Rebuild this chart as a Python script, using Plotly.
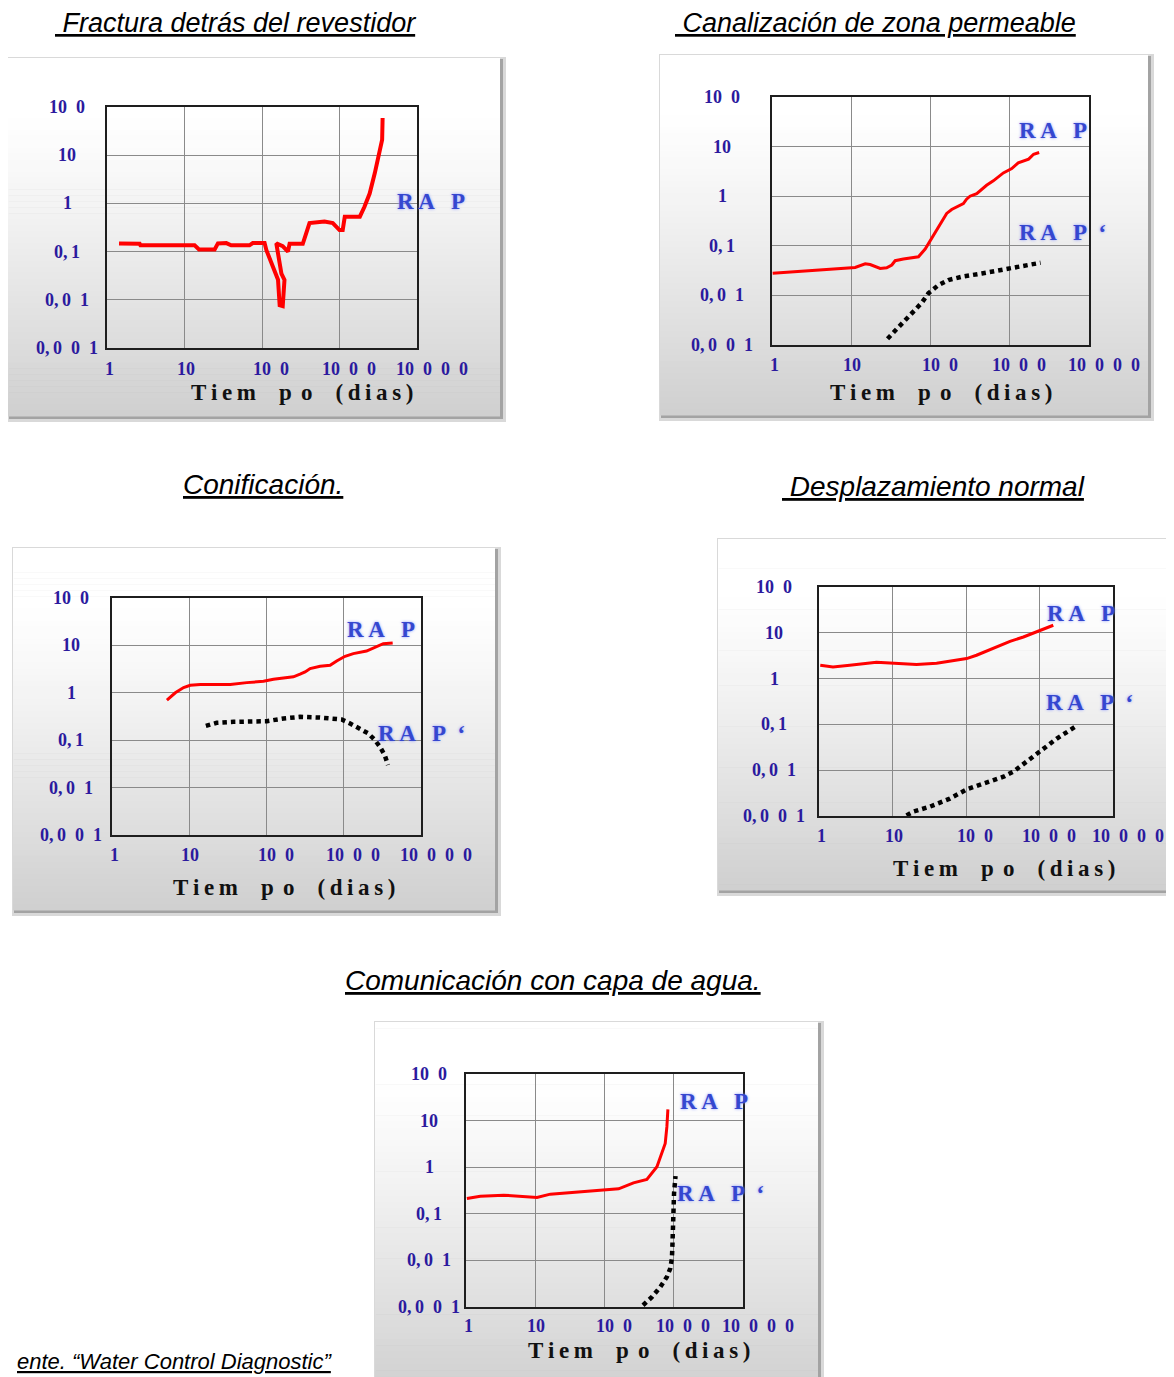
import math
import plotly.graph_objects as go

W, H = 1174, 1377
OFF = 8  # margen por defecto del <body> en la pagina

# ---------------- datos ----------------
x_ticks = [1, 10, 100, 1000, 10000]
x_tick_text = ["1", "10", "10\u20020", "10\u20020\u20020", "10\u20020\u20020\u20020"]
y_ticks = [100, 10, 1, 0.1, 0.01, 0.001]
y_tick_text = ["10\u20020", "10", "1", "0,\u20091", "0,\u20090\u20021", "0,\u20090\u20020\u20021"]

titulos = ["\u00a0Fractura detrás del revestidor",
           "\u00a0Canalización de zona permeable",
           "Conificación.",
           "\u00a0Desplazamiento normal",
           "Comunicación con capa de agua."]
fuente = "ente. \u201cWater Control Diagnostic\u201d"

# Fractura detras del revestidor
dias_fractura = [1.43, 2.64, 2.7, 13.5, 15.4, 24.5, 27, 34.6, 40, 69, 76, 108, 114, 138, 161, 169,
                 185, 195, 178, 153, 185, 216, 227, 336, 355, 410, 640, 820, 1000, 1100, 1170,
                 1830, 2100, 2450, 2850, 3300, 3550, 3600]
rap_fractura = [0.148, 0.145, 0.135, 0.135, 0.111, 0.111, 0.148, 0.15, 0.135, 0.135, 0.15, 0.15,
                0.107, 0.048, 0.026, 0.0077, 0.0074, 0.026, 0.035, 0.148, 0.13, 0.1, 0.145, 0.145,
                0.2, 0.39, 0.42, 0.39, 0.28, 0.28, 0.53, 0.53, 0.85, 1.6, 4.2, 11, 21, 59]

# Canalizacion de zona permeable
dias_canal = [1.02, 10.2, 11.2, 15, 17.3, 23.2, 28, 32.5, 35.8, 45.5, 70.5, 85.6, 103.6, 125, 160,
              185, 260, 285, 315, 383, 510, 620, 830, 1060, 1280, 1730, 2000, 2350]
rap_canal = [0.028, 0.0366, 0.0366, 0.0434, 0.042, 0.035, 0.036, 0.041, 0.05, 0.054, 0.06, 0.086,
             0.14, 0.24, 0.45, 0.54, 0.71, 0.87, 1.0, 1.13, 1.66, 2.04, 2.95, 3.6, 4.7, 5.6, 7.0, 7.6]
dias_canal_d = [28.7, 52.8, 77.6, 94, 125, 168, 248, 444, 960, 2450]
rapd_canal = [0.00134, 0.0037, 0.0071, 0.011, 0.016, 0.0204, 0.0238, 0.0277, 0.035, 0.0455]

# Conificacion
dias_conif = [5.14, 6.6, 8.45, 10.3, 13.9, 34, 55.6, 91.5, 123, 223, 272, 316, 367, 495, 666, 810,
              1040, 1330, 1970, 2670, 3250, 4300]
rap_conif = [0.70, 1.0, 1.29, 1.44, 1.5, 1.5, 1.64, 1.75, 1.94, 2.17, 2.47, 2.76, 3.25, 3.63, 3.8,
             4.7, 5.9, 6.7, 7.6, 9.6, 10.9, 11.3]
dias_conif_d = [16.4, 22.7, 37.5, 101, 166, 272, 491, 730, 940, 1210, 1620, 2080, 2540, 2940, 3400, 3740]
rapd_conif = [0.20, 0.233, 0.244, 0.252, 0.287, 0.311, 0.30, 0.287, 0.273, 0.225, 0.177, 0.139,
              0.1, 0.0726, 0.048, 0.030]

# Desplazamiento normal
dias_despl = [1.04, 1.55, 2.62, 3.98, 6.05, 9.2, 13.9, 21.2, 39.8, 67, 102, 139, 190, 262, 397,
              604, 826, 1020, 1250, 1540]
rap_despl = [1.96, 1.8, 1.96, 2.13, 2.28, 2.2, 2.09, 2.03, 2.17, 2.44, 2.74, 3.24, 4.0, 5.1, 6.5,
             8.1, 9.9, 11, 12.8, 14.6]
dias_despl_d = [15.5, 19.1, 32.2, 60.3, 102, 172, 324, 442, 670, 1020, 1720, 3050]
rapd_despl = [0.00103, 0.00124, 0.0016, 0.0024, 0.0038, 0.0052, 0.0072, 0.0093, 0.0153, 0.0266,
              0.049, 0.0887]

# Comunicacion con capa de agua
dias_comun = [1.03, 1.61, 3.5, 6.8, 10.6, 16.5, 32, 97.5, 160, 262, 409, 572, 674, 753, 796, 823]
rap_comun = [0.213, 0.239, 0.251, 0.231, 0.224, 0.264, 0.286, 0.321, 0.343, 0.462, 0.545, 1.02,
             1.97, 3.24, 7.4, 17.4]
dias_comun_d = [360, 485, 640, 795, 890, 940, 955, 970, 970, 990, 1010, 1060]
rapd_comun = [0.00109, 0.00164, 0.0027, 0.0044, 0.0067, 0.011, 0.0195, 0.0377, 0.073, 0.141,
              0.273, 0.643]

series = [
    (dias_fractura, rap_fractura, None, None),
    (dias_canal, rap_canal, dias_canal_d, rapd_canal),
    (dias_conif, rap_conif, dias_conif_d, rapd_conif),
    (dias_despl, rap_despl, dias_despl_d, rapd_despl),
    (dias_comun, rap_comun, dias_comun_d, rapd_comun),
]

# ---------------- posiciones (pixeles de la imagen) ----------------
panels = [
    dict(box=(8, 58, 500, 416), plot=(107, 107, 417, 348), ylab_dx=-40, xlab_dy=21,
         ttl=(235, 23, 27), axt=(302, 392), rap=(431, 202), rapd=None, lw=4),
    dict(box=(660, 55, 1148, 415), plot=(772, 97, 1089, 345), ylab_dx=-50, xlab_dy=20,
         ttl=(875, 23, 27), axt=(941, 392), rap=(1053, 131), rapd=(1062, 232), lw=3),
    dict(box=(13, 548, 495, 910), plot=(112, 598, 421, 835), ylab_dx=-41, xlab_dy=20,
         ttl=(263, 484, 28), axt=(284, 887), rap=(381, 630), rapd=(421, 733), lw=3),
    dict(box=(718, 539, 1180, 890), plot=(819, 587, 1113, 816), ylab_dx=-45, xlab_dy=20,
         ttl=(933, 486, 28), axt=(1004, 868), rap=(1081, 613), rapd=(1089, 703), lw=3),
    dict(box=(375, 1022, 818, 1395), plot=(466, 1074, 743, 1307), ylab_dx=-37, xlab_dy=19,
         ttl=(553, 980, 28), axt=(639, 1350), rap=(714, 1101), rapd=(721, 1193), lw=3),
]
xlab_shift = [2, 1, 9, 9, 15]

TICK_COLOR = "#2b1a9e"
RAP_COLOR = "#3547cf"
SERIF = "Liberation Serif, Times New Roman, serif"
SANS = "Liberation Sans, Arial, sans-serif"

FW, FH = W - OFF, H - OFF


def px(x):
    return (x - OFF) / FW


def py(y):
    return 1 - (y - OFF) / FH


def sp(word):
    return "\u2009".join(word)


fig = go.Figure()
shapes = []
annotations = []
layout_axes = {}

for i, (p, (xs, ys, xd, yd)) in enumerate(zip(panels, series), start=1):
    sfx = "" if i == 1 else str(i)
    xa, ya = "x" + sfx, "y" + sfx

    # caja con sombra y degradado
    x0, y0, x1, y1 = p["box"]
    shapes.append(dict(type="rect", xref="paper", yref="paper", layer="below",
                       x0=px(x0 - 1), x1=px(x1 + 6), y0=py(y0 - 1), y1=py(y1 + 6),
                       fillcolor="#d9d9d9", line_width=0))
    shapes.append(dict(type="rect", xref="paper", yref="paper", layer="below",
                       x0=px(x0 + 1), x1=px(x1 + 3), y0=py(y0 + 1), y1=py(y1 + 3),
                       fillcolor="#a3a3a3", line_width=0))
    n = 60
    for k in range(n):
        t = (k + 0.5) / n
        s = min(max((t - 0.15) / 0.85, 0), 1)
        v = int(round(255 - 48 * s ** 1.2))
        ya0 = y0 + (y1 - y0) * k / n
        ya1 = y0 + (y1 - y0) * (k + 1) / n + 0.6
        shapes.append(dict(type="rect", xref="paper", yref="paper", layer="below",
                           x0=px(x0), x1=px(x1), y0=py(ya0), y1=py(ya1),
                           fillcolor=f"rgb({v},{v},{v})", line_width=0))

    l, t_, r, b = p["plot"]
    ax_common = dict(type="log", showgrid=True, gridcolor="#8a8a8a", gridwidth=1.3,
                     showline=True, mirror=True, linecolor="#1e1e1e", linewidth=1.8,
                     showticklabels=False, ticks="", zeroline=False, fixedrange=True)
    layout_axes["xaxis" + sfx] = dict(ax_common, domain=[px(l), px(r)], range=[0, 4],
                                      tickvals=x_ticks, anchor=ya)
    layout_axes["yaxis" + sfx] = dict(ax_common, domain=[py(b), py(t_)], range=[-3, 2],
                                      tickvals=y_ticks, anchor=xa)

    fig.add_trace(go.Scatter(x=xs, y=ys, mode="lines", xaxis=xa, yaxis=ya,
                             line=dict(color="#ff0000", width=p["lw"]),
                             showlegend=False, hoverinfo="skip"))
    if xd is not None:
        fig.add_trace(go.Scatter(x=xd, y=yd, mode="lines", xaxis=xa, yaxis=ya,
                                 line=dict(color="#000000", width=4.5, dash="4.5px,4px"),
                                 showlegend=False, hoverinfo="skip"))

    # etiquetas de ejes
    for v, txt in zip(y_ticks, y_tick_text):
        annotations.append(dict(text=txt, xref="paper", yref=ya, x=px(l + p["ylab_dx"]),
                                y=math.log10(v), xanchor="center", yanchor="middle",
                                showarrow=False,
                                font=dict(family=SERIF, size=18, color=TICK_COLOR, weight="bold")))
    for v, txt, sh in zip(x_ticks, x_tick_text, xlab_shift):
        annotations.append(dict(text=txt, xref=xa, yref="paper", x=math.log10(v),
                                y=py(b + p["xlab_dy"]), xanchor="center", yanchor="middle",
                                xshift=sh, showarrow=False,
                                font=dict(family=SERIF, size=18, color=TICK_COLOR, weight="bold")))
    annotations.append(dict(text=sp("Tiem") + "\u2003" + "p\u2009\u2009o" + "\u2003" + sp("(dias)"),
                            xref="paper", yref="paper", x=px(p["axt"][0]), y=py(p["axt"][1]),
                            xanchor="center", yanchor="middle", showarrow=False,
                            font=dict(family=SERIF, size=23, color="#111111", weight="bold")))

    rap_font = dict(family=SERIF, size=23, color=RAP_COLOR, weight="bold",
                    shadow="0px 0px 3px #8a96ff")
    annotations.append(dict(text="R\u2009A\u2002\u2009P", xref="paper", yref="paper",
                            x=px(p["rap"][0]), y=py(p["rap"][1]), xanchor="center",
                            yanchor="middle", showarrow=False, font=rap_font))
    if p["rapd"] is not None:
        annotations.append(dict(text="R\u2009A\u2002\u2009P\u2002\u2018", xref="paper", yref="paper",
                                x=px(p["rapd"][0]), y=py(p["rapd"][1]), xanchor="center",
                                yanchor="middle", showarrow=False, font=rap_font))

    tx, ty, tsize = p["ttl"]
    annotations.append(dict(text=titulos[i - 1], xref="paper", yref="paper",
                            x=px(tx), y=py(ty), xanchor="center",
                            yanchor="middle", showarrow=False,
                            font=dict(family=SANS, size=tsize, color="#000000", style="italic",
                                      lineposition="under")))

annotations.append(dict(text=fuente, xref="paper", yref="paper", x=px(335), y=py(1361),
                        xanchor="right", yanchor="middle", showarrow=False,
                        font=dict(family=SANS, size=22, color="#000000", style="italic",
                                  lineposition="under")))

fig.update_layout(width=FW, height=FH, margin=dict(l=0, r=0, t=0, b=0),
                  paper_bgcolor="#ffffff", plot_bgcolor="rgba(0,0,0,0)",
                  shapes=shapes, annotations=annotations, showlegend=False,
                  **layout_axes)

fig.write_html("out.html")
